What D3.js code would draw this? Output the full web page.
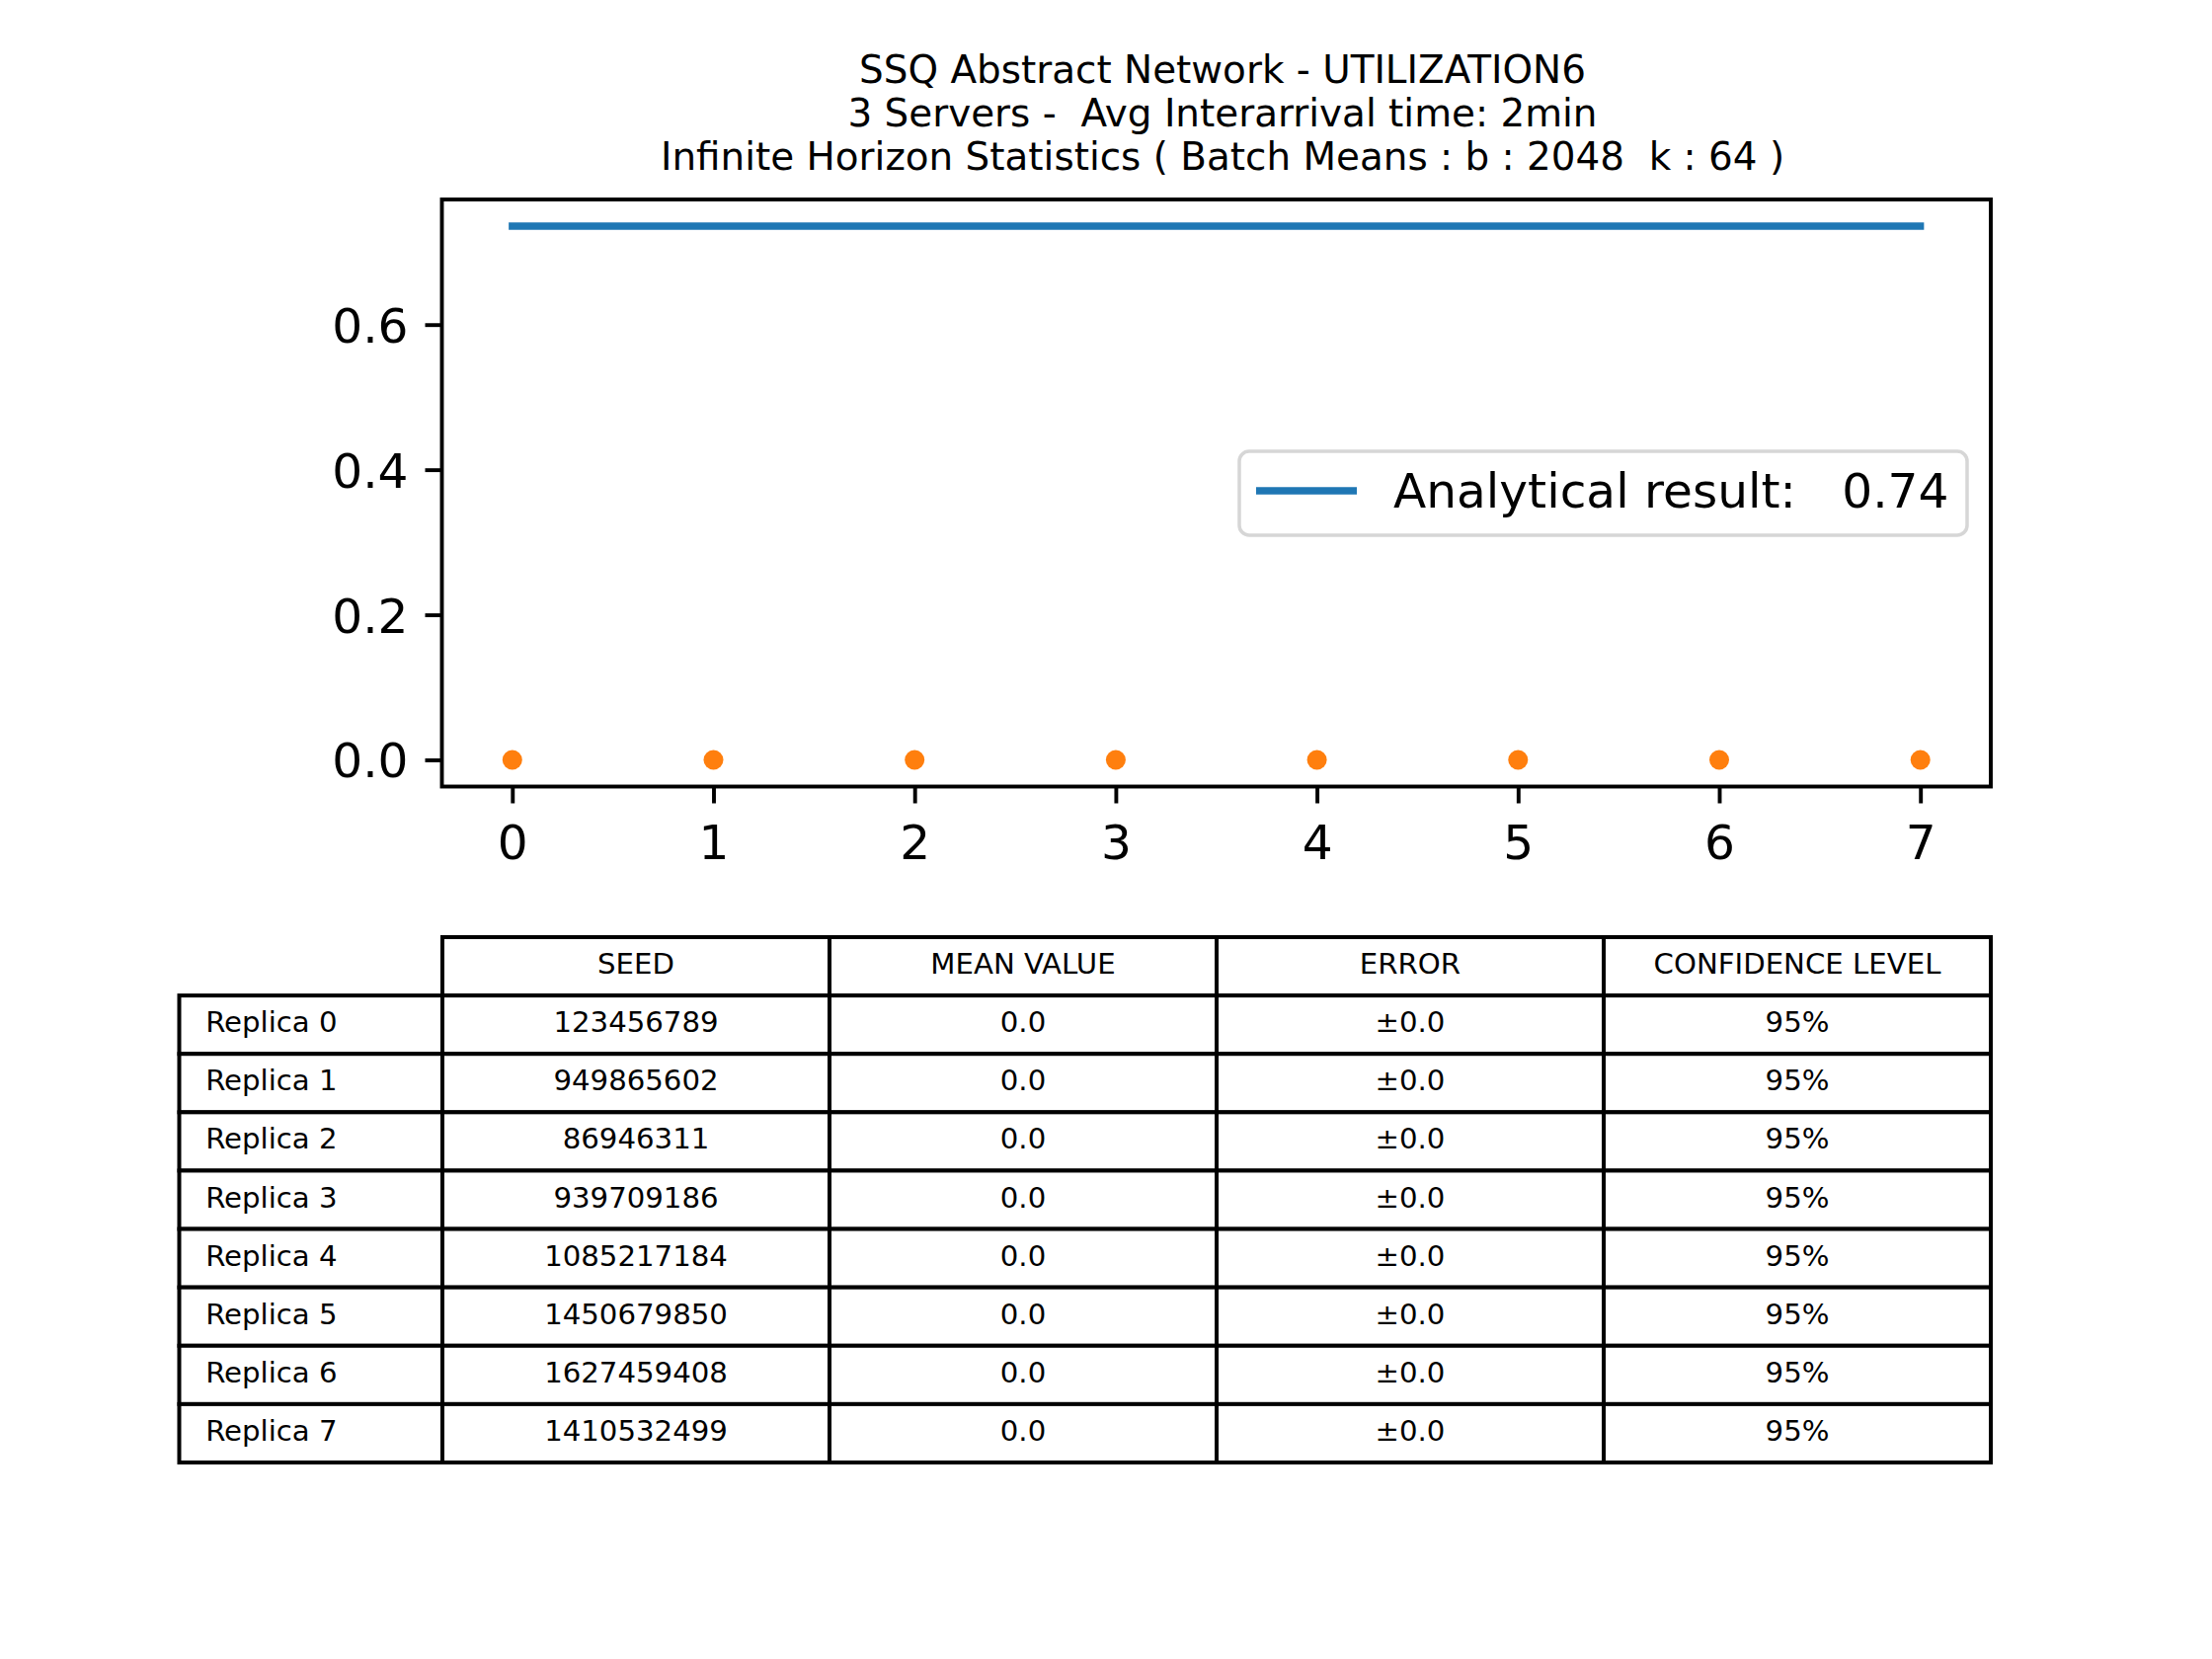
<!DOCTYPE html>
<html>
<head>
<meta charset="utf-8">
<script src="https://cdn.jsdelivr.net/npm/d3@7"></script>
<style>
  html, body { margin: 0; padding: 0; background: #fff; }
  svg { display: block; }
  text { font-family: "DejaVu Sans", sans-serif; white-space: pre; }
</style>
</head>
<body>
<svg id="chart" width="2240" height="1680"></svg>
<script>
// ---------------- DATA ----------------
const titleLines = [
  "SSQ Abstract Network - UTILIZATION6",
  "3 Servers -  Avg Interarrival time: 2min",
  "Infinite Horizon Statistics ( Batch Means : b : 2048  k : 64 )"
];
const replicaIndex = [0, 1, 2, 3, 4, 5, 6, 7];
const meanValues = [0.0, 0.0, 0.0, 0.0, 0.0, 0.0, 0.0, 0.0];
const analyticalX = [0, 7];
const analyticalY = [0.7357, 0.7357];
const legendLabel = "Analytical result:   0.74";
const xTicks = [0, 1, 2, 3, 4, 5, 6, 7];
const yTicks = [0.0, 0.2, 0.4, 0.6];

const tableHeaders = ["SEED", "MEAN VALUE", "ERROR", "CONFIDENCE LEVEL"];
const rowLabels = ["Replica 0", "Replica 1", "Replica 2", "Replica 3", "Replica 4", "Replica 5", "Replica 6", "Replica 7"];
const seeds = ["123456789", "949865602", "86946311", "939709186", "1085217184", "1450679850", "1627459408", "1410532499"];
const meanTexts = ["0.0", "0.0", "0.0", "0.0", "0.0", "0.0", "0.0", "0.0"];
const errorTexts = ["±0.0", "±0.0", "±0.0", "±0.0", "±0.0", "±0.0", "±0.0", "±0.0"];
const confidenceTexts = ["95%", "95%", "95%", "95%", "95%", "95%", "95%", "95%"];

// ---------------- LAYOUT ----------------
const svg = d3.select("#chart");
const plot = { left: 447.5, right: 2016, top: 202, bottom: 796.5 };
const spineW = 3.9;
const tickLen = 17;
const tickFont = 48.6;

// x domain with 5% margins
const xMin = d3.min(replicaIndex), xMax = d3.max(replicaIndex);
const xPad = (xMax - xMin) * 0.05;
const x = d3.scaleLinear().domain([xMin - xPad, xMax + xPad]).range([plot.left, plot.right]);
const allY = meanValues.concat(analyticalY);
const yMin = d3.min(allY), yMax = d3.max(allY);
const yPad = (yMax - yMin) * 0.05;
const y = d3.scaleLinear().domain([yMin - yPad, yMax + yPad]).range([plot.bottom, plot.top]);

// Title
const title = svg.append("g");
title.selectAll("text").data(titleLines).join("text")
  .attr("x", 1238)
  .attr("y", (d, i) => 84 + i * 44)
  .attr("text-anchor", "middle")
  .attr("font-size", 38.9)
  .attr("fill", "#000")
  .text(d => d);

// Analytical line
const line = d3.line().x(d => x(d[0])).y(d => y(d[1]));
svg.append("path")
  .datum(analyticalX.map((v, i) => [v, analyticalY[i]]))
  .attr("d", line)
  .attr("fill", "none")
  .attr("stroke", "#1f77b4")
  .attr("stroke-width", 7.3)
  .attr("stroke-linecap", "square");

// Points
svg.append("g").selectAll("circle")
  .data(replicaIndex.map((v, i) => [v, meanValues[i]]))
  .join("circle")
  .attr("cx", d => x(d[0]))
  .attr("cy", d => y(d[1]))
  .attr("r", 10)
  .attr("fill", "#ff7f0e");

// Axes
const xAxis = d3.axisBottom(x).tickValues(xTicks).tickFormat(d3.format("d")).tickSize(tickLen).tickPadding(20);
const yAxis = d3.axisLeft(y).tickValues(yTicks).tickFormat(d3.format(".1f")).tickSize(tickLen).tickPadding(17);

const gx = svg.append("g").attr("transform", `translate(0,${plot.bottom})`).call(xAxis);
const gy = svg.append("g").attr("transform", `translate(${plot.left},0)`).call(yAxis);
[gx, gy].forEach(g => {
  g.select(".domain").remove();
  g.selectAll(".tick line").attr("stroke", "#000").attr("stroke-width", spineW);
  g.selectAll(".tick text").attr("font-size", tickFont).attr("font-family", "DejaVu Sans").attr("fill", "#000");
});
gx.selectAll(".tick text").attr("dy", "0.76em");
gy.selectAll(".tick text").attr("dy", "0.36em");

// Spines
svg.append("rect")
  .attr("x", plot.left).attr("y", plot.top)
  .attr("width", plot.right - plot.left).attr("height", plot.bottom - plot.top)
  .attr("fill", "none").attr("stroke", "#000").attr("stroke-width", spineW)
  .attr("stroke-linejoin", "miter");

// Legend
const legend = { left: 1255, top: 457, right: 1992, bottom: 542 };
svg.append("rect")
  .attr("x", legend.left).attr("y", legend.top)
  .attr("width", legend.right - legend.left).attr("height", legend.bottom - legend.top)
  .attr("rx", 10).attr("ry", 10)
  .attr("fill", "#fff").attr("fill-opacity", 0.8)
  .attr("stroke", "#d6d6d6").attr("stroke-width", 3.5);
svg.append("line")
  .attr("x1", 1272).attr("x2", 1374)
  .attr("y1", 497).attr("y2", 497)
  .attr("stroke", "#1f77b4").attr("stroke-width", 7.3);
svg.append("text")
  .attr("x", 1411).attr("y", 514)
  .attr("font-size", tickFont)
  .attr("fill", "#000")
  .text(legendLabel);

// ---------------- TABLE ----------------
const tableFont = 29.2;
const nRows = rowLabels.length + 1;
const rowBand = d3.scaleBand().domain(d3.range(nRows)).range([949, 1481]);
const colEdges = [181.5, 448, 840, 1232, 1624, 2016];
const colScale = d3.scaleOrdinal().domain(d3.range(colEdges.length)).range(colEdges);
const tableLineW = 4;
const tg = svg.append("g");

const columns = [rowLabels, seeds, meanTexts, errorTexts, confidenceTexts];

// cells
const cells = [];
tableHeaders.forEach((h, j) => cells.push({ r: 0, c: j + 1, text: h, align: "middle" }));
for (let i = 0; i < rowLabels.length; i++) {
  columns.forEach((col, j) => cells.push({ r: i + 1, c: j, text: col[i], align: j === 0 ? "start" : "middle" }));
}

tg.selectAll("rect").data(cells).join("rect")
  .attr("x", d => colScale(d.c))
  .attr("y", d => rowBand(d.r))
  .attr("width", d => colScale(d.c + 1) - colScale(d.c))
  .attr("height", rowBand.bandwidth())
  .attr("fill", "#fff")
  .attr("stroke", "#000")
  .attr("stroke-width", tableLineW);

tg.selectAll("text").data(cells).join("text")
  .attr("x", d => {
    const w = colScale(d.c + 1) - colScale(d.c);
    return d.align === "start" ? colScale(d.c) + 0.1 * w : colScale(d.c) + w / 2;
  })
  .attr("y", d => rowBand(d.r) + rowBand.bandwidth() / 2)
  .attr("dy", "0.26em")
  .attr("text-anchor", d => d.align)
  .attr("font-size", tableFont)
  .attr("fill", "#000")
  .text(d => d.text);
</script>
</body>
</html>
